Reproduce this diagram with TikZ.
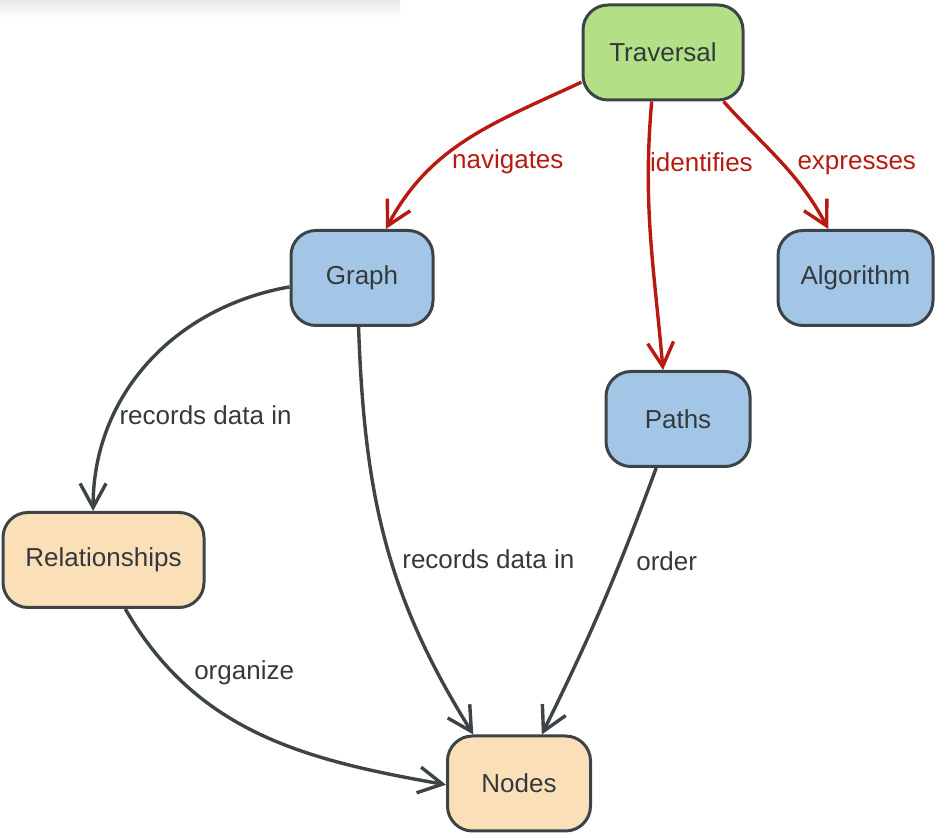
\documentclass[tikz,border=0pt]{standalone}
\usepackage{fontspec}
\setmainfont{Liberation Sans}
\usepackage{xcolor}
\usepackage{tikz}
\usetikzlibrary{arrows.meta}
\definecolor{travgreen}{HTML}{B3E086}
\definecolor{conceptblue}{HTML}{A4C6E6}
\definecolor{datapeach}{HTML}{FBDFB8}
\definecolor{rimgray}{HTML}{3C4448}
\definecolor{linkred}{HTML}{B71A10}
\definecolor{inkgray}{HTML}{333A3D}

\begin{document}
\begin{tikzpicture}[x=0.5pt,y=0.5pt,
        box/.style={draw=rimgray,line width=1.5pt,rounded corners=12.5pt,minimum height=47.5pt,text=inkgray,font=\fontsize{13}{15}\selectfont},
        redlink/.style={draw=linkred,line width=1.7pt,-{Straight Barb[length=12pt,width=13pt]}},
        graylink/.style={draw=rimgray,line width=1.7pt,-{Straight Barb[length=12pt,width=13pt]}},
        redlbl/.style={text=linkred,font=\fontsize{13}{15}\selectfont,inner sep=2pt},
        graylbl/.style={text=inkgray,font=\fontsize{13}{15}\selectfont,inner sep=2pt}]
        \useasboundingbox (0,0) rectangle (950,-838);
        \shade[top color=black!9,bottom color=white] (0,0) rectangle (400,-18);
        \node[box,fill=travgreen,minimum width=80pt] (trav) at (663,-52.5) {Traversal};
        \node[box,fill=conceptblue,minimum width=71pt] (graph) at (362,-278) {Graph};
        \node[box,fill=conceptblue,minimum width=77.5pt] (algo) at (855.5,-278) {Algorithm};
        \node[box,fill=conceptblue,minimum width=72pt] (paths) at (678,-419) {Paths};
        \node[box,fill=datapeach,minimum width=100.5pt] (rel) at (103.5,-560) {Relationships};
        \node[box,fill=datapeach,minimum width=71.5pt] (nodes) at (519,-783.5) {Nodes};
        \draw[redlink] (trav.200) to[out=205,in=62] node[redlbl,pos=0.66,anchor=west,xshift=4pt] (lnav) {navigates} (graph.64);
        \draw[redlink] (trav.257) to[out=265,in=95] node[redlbl,pos=0.21,anchor=west,xshift=-2pt] (lident) {identifies} (paths.107);
        \draw[redlink] (trav.-39) to[out=-48,in=118] node[redlbl,pos=0.53,anchor=west,xshift=4pt] (lexpr) {expresses} (algo.119);
        \draw[graylink] (graph.187) to[out=190,in=90] node[graylbl,pos=0.7,anchor=west,xshift=0pt] (lrec1) {records data in} (rel.102);
        \draw[graylink] (graph.266) to[out=-88,in=122] node[graylbl,pos=0.55,anchor=west,xshift=3pt] (lrec2) {records data in} (nodes.133.5);
        \draw[graylink] (paths.246) to[bend left=3] node[graylbl,pos=0.33,anchor=west,xshift=5pt] (lorder) {order} (nodes.65);
        \draw[graylink] (rel.-66) to[out=-60,in=170] node[graylbl,pos=0.2,anchor=west,xshift=8pt] (lorg) {organize} (nodes.181);
    \end{tikzpicture}
\end{document}
